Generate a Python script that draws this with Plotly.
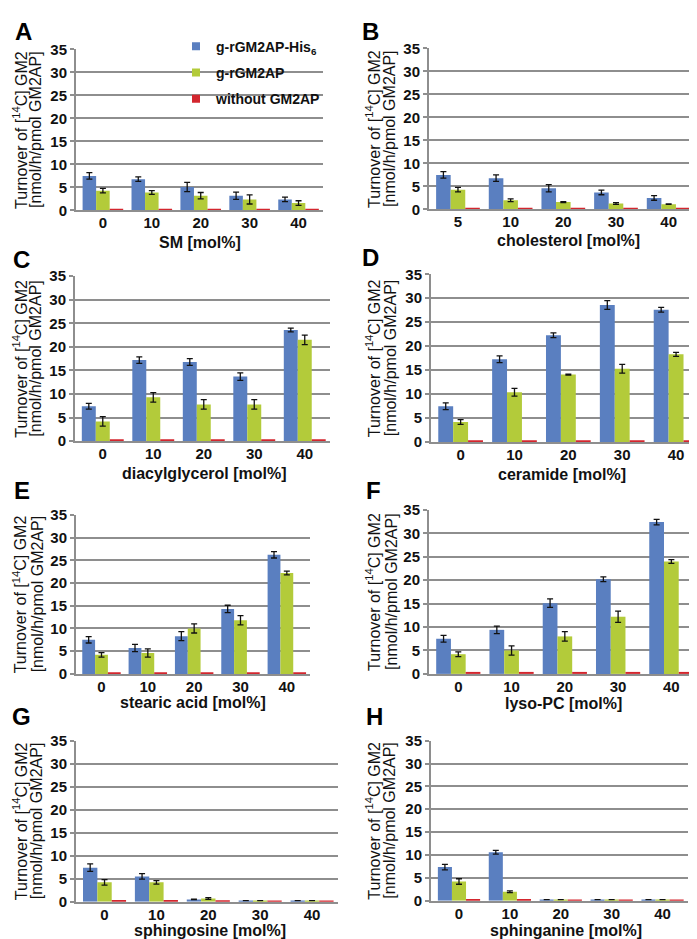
import plotly.graph_objects as go
from plotly.subplots import make_subplots

W, H = 697, 939

C_HIS = "#5a7fc0"
C_WT = "#b3cb3a"
C_NONE = "#d3262e"
C_GRID = "#8e8e8e"
C_TEXT = "#111111"
FONT = "Liberation Sans, Arial, sans-serif"

# --- data (turnover of [14C]GM2, nmol/h/pmol GM2AP) ---
conc = ["0", "10", "20", "30", "40"]
conc_chol = ["5", "10", "20", "30", "40"]

series_names = ["g-rGM2AP-His<sub>6</sub>", "g-rGM2AP", "without GM2AP"]

# A: SM
sm_his = [7.5, 6.8, 5.1, 3.2, 2.4]
sm_his_err = [0.7, 0.5, 1.0, 0.8, 0.5]
sm_wt = [4.3, 3.9, 3.2, 2.4, 1.6]
sm_wt_err = [0.5, 0.4, 0.7, 1.0, 0.5]
sm_none = [0.35, 0.35, 0.35, 0.35, 0.35]

# B: cholesterol
chol_his = [7.5, 6.8, 4.6, 3.7, 2.5]
chol_his_err = [0.7, 0.7, 0.8, 0.5, 0.5]
chol_wt = [4.3, 2.0, 1.6, 1.3, 1.15]
chol_wt_err = [0.5, 0.3, 0.1, 0.2, 0.05]
chol_none = [0.35, 0.35, 0.35, 0.35, 0.35]

# C: diacylglycerol
dag_his = [7.4, 17.2, 16.8, 13.7, 23.6]
dag_his_err = [0.6, 0.7, 0.7, 0.8, 0.4]
dag_wt = [4.2, 9.3, 7.8, 7.8, 21.5]
dag_wt_err = [1.0, 1.0, 1.0, 1.0, 1.0]
dag_none = [0.35, 0.35, 0.35, 0.35, 0.35]

# D: ceramide
cer_his = [7.5, 17.3, 22.3, 28.6, 27.6]
cer_his_err = [0.7, 0.7, 0.5, 0.9, 0.5]
cer_wt = [4.2, 10.4, 14.1, 15.3, 18.3]
cer_wt_err = [0.5, 0.8, 0.1, 0.9, 0.4]
cer_none = [0.35, 0.35, 0.35, 0.4, 0.4]

# E: stearic acid
ste_his = [7.5, 5.7, 8.3, 14.3, 26.2]
ste_his_err = [0.7, 0.8, 1.0, 0.8, 0.7]
ste_wt = [4.2, 4.6, 10.0, 11.8, 22.2]
ste_wt_err = [0.5, 0.9, 1.0, 1.0, 0.4]
ste_none = [0.35, 0.35, 0.35, 0.35, 0.35]

# F: lyso-PC
lpc_his = [7.5, 9.4, 15.1, 20.2, 32.4]
lpc_his_err = [0.7, 0.8, 0.9, 0.5, 0.6]
lpc_wt = [4.2, 5.0, 8.0, 12.2, 24.0]
lpc_wt_err = [0.5, 1.0, 1.0, 1.2, 0.4]
lpc_none = [0.35, 0.4, 0.4, 0.4, 0.35]

# G: sphingosine
sph_his = [7.4, 5.5, 0.5, 0.25, 0.25]
sph_his_err = [0.8, 0.6, 0.05, 0, 0]
sph_wt = [4.2, 4.2, 0.7, 0.25, 0.25]
sph_wt_err = [0.6, 0.4, 0.2, 0, 0]
sph_none = [0.35, 0.35, 0.3, 0.25, 0.25]

# H: sphinganine
spa_his = [7.35, 10.6, 0.25, 0.25, 0.25]
spa_his_err = [0.6, 0.4, 0, 0, 0]
spa_wt = [4.2, 1.95, 0.25, 0.25, 0.25]
spa_wt_err = [0.6, 0.2, 0, 0, 0]
spa_none = [0.35, 0.35, 0.25, 0.25, 0.25]

panels = [
    ("A", "SM [mol%]", conc, sm_his, sm_his_err, sm_wt, sm_wt_err, sm_none),
    ("B", "cholesterol [mol%]", conc_chol, chol_his, chol_his_err, chol_wt, chol_wt_err, chol_none),
    ("C", "diacylglycerol [mol%]", conc, dag_his, dag_his_err, dag_wt, dag_wt_err, dag_none),
    ("D", "ceramide [mol%]", conc, cer_his, cer_his_err, cer_wt, cer_wt_err, cer_none),
    ("E", "stearic acid [mol%]", conc, ste_his, ste_his_err, ste_wt, ste_wt_err, ste_none),
    ("F", "lyso-PC [mol%]", conc, lpc_his, lpc_his_err, lpc_wt, lpc_wt_err, lpc_none),
    ("G", "sphingosine [mol%]", conc, sph_his, sph_his_err, sph_wt, sph_wt_err, sph_none),
    ("H", "sphinganine [mol%]", conc, spa_his, spa_his_err, spa_wt, spa_wt_err, spa_none),
]

# --- layout in pixels: plot box (left, right, top, bottom), letter, x-title, y-title lines ---
boxes = [
    (68, 315, 33, 197), (421, 687, 32, 196),
    (67, 322, 264, 432), (423, 695, 262, 433),
    (68, 302, 507, 669), (421, 690, 502, 669),
    (68, 330, 737, 901), (423, 680, 737, 900),
]
letter_pos = [(15, 15), (363, 15), (14, 247), (363, 245),
              (14, 482), (365, 482), (14, 712), (366, 712)]
xtitle_pos = [(192, 230), (560, 228), (196, 465), (554, 466),
              (185, 698), (555, 699), (202, 930), (558, 930)]
ytitle_x = [(12, 28), (365, 382), (12, 28), (365, 382),
            (12, 29), (365, 384), (12, 28), (365, 382)]


def px(x):
    return x / W


def py(y):
    return 1 - y / H


fig = make_subplots(rows=4, cols=2)
annotations = []

for i, (letter, xtitle, cats, his, his_err, wt, wt_err, none) in enumerate(panels):
    r, c = i // 2 + 1, i % 2 + 1
    vals = [(his, his_err, C_HIS), (wt, wt_err, C_WT), (none, None, C_NONE)]
    for k, (v, e, col) in enumerate(vals):
        err = dict(type="data", array=e, visible=True, color="#111111",
                   thickness=1.3, width=3) if e is not None else None
        fig.add_trace(go.Bar(
            x=cats, y=v, name=series_names[k], marker=dict(color=col, line_width=0),
            error_y=err, showlegend=False,
        ), row=r, col=c)

    l, rt, t, b = boxes[i]
    n = i + 1
    xa = "xaxis" if n == 1 else f"xaxis{n}"
    ya = "yaxis" if n == 1 else f"yaxis{n}"
    fig.layout[xa].update(
        domain=[px(l), px(rt)], type="category", showgrid=False,
        showline=True, linecolor=C_GRID, linewidth=2, ticks="",
        ticklabelstandoff=-2,
        tickfont=dict(size=15, family=FONT, color=C_TEXT, weight="bold"),
        range=[-0.55, 4.5],
    )
    fig.layout[ya].update(
        domain=[py(b), py(t)], range=[0, 35], dtick=5, tick0=0,
        showgrid=True, gridcolor=C_GRID, gridwidth=2,
        showline=True, linecolor=C_GRID, linewidth=2,
        ticks="outside", ticklen=4, tickcolor=C_GRID, tickwidth=2,
        zeroline=False,
        tickfont=dict(size=15, family=FONT, color=C_TEXT, weight="bold"),
    )

    lx, ly = letter_pos[i]
    annotations.append(dict(
        text=f"<b>{letter}</b>", x=px(lx), y=py(ly), xref="paper", yref="paper",
        xanchor="center", yanchor="middle", showarrow=False,
        font=dict(size=24, family=FONT, color="#000000"),
    ))
    tx, ty = xtitle_pos[i]
    annotations.append(dict(
        text=f"<b>{xtitle}</b>", x=px(tx), y=py(ty), xref="paper", yref="paper",
        xanchor="center", yanchor="middle", showarrow=False,
        font=dict(size=16, family=FONT, color=C_TEXT),
    ))
    yc = (t + b) / 2
    y1, y2 = ytitle_x[i]
    for xx, txt in [(y1, "Turnover of [<sup>14</sup>C] GM2"), (y2, "[nmol/h/pmol GM2AP]")]:
        annotations.append(dict(
            text=txt, x=px(xx), y=py(yc), xref="paper", yref="paper",
            xanchor="center", yanchor="middle", showarrow=False, textangle=-90,
            font=dict(size=16, family=FONT, color=C_TEXT),
        ))

# legend-only markers (small squares, as in the original legend)
for k, col in enumerate([C_HIS, C_WT, C_NONE]):
    fig.add_trace(go.Scatter(
        x=[None], y=[None], mode="markers", name=series_names[k],
        marker=dict(symbol="square", size=8, color=col),
        legendgroup=str(k), showlegend=True,
    ), row=1, col=1)

fig.update_layout(
    width=W, height=H,
    margin=dict(l=0, r=0, t=0, b=0),
    paper_bgcolor="white", plot_bgcolor="white",
    barmode="group", bargap=0.17, bargroupgap=0,
    annotations=annotations,
    legend=dict(
        x=px(168), y=py(14), xanchor="left", yanchor="top",
        bgcolor="rgba(0,0,0,0)", tracegroupgap=5,
        font=dict(size=14, family=FONT, color=C_TEXT, weight="bold"),
    ),
    font=dict(family=FONT),
)

fig.write_html("out.html")
